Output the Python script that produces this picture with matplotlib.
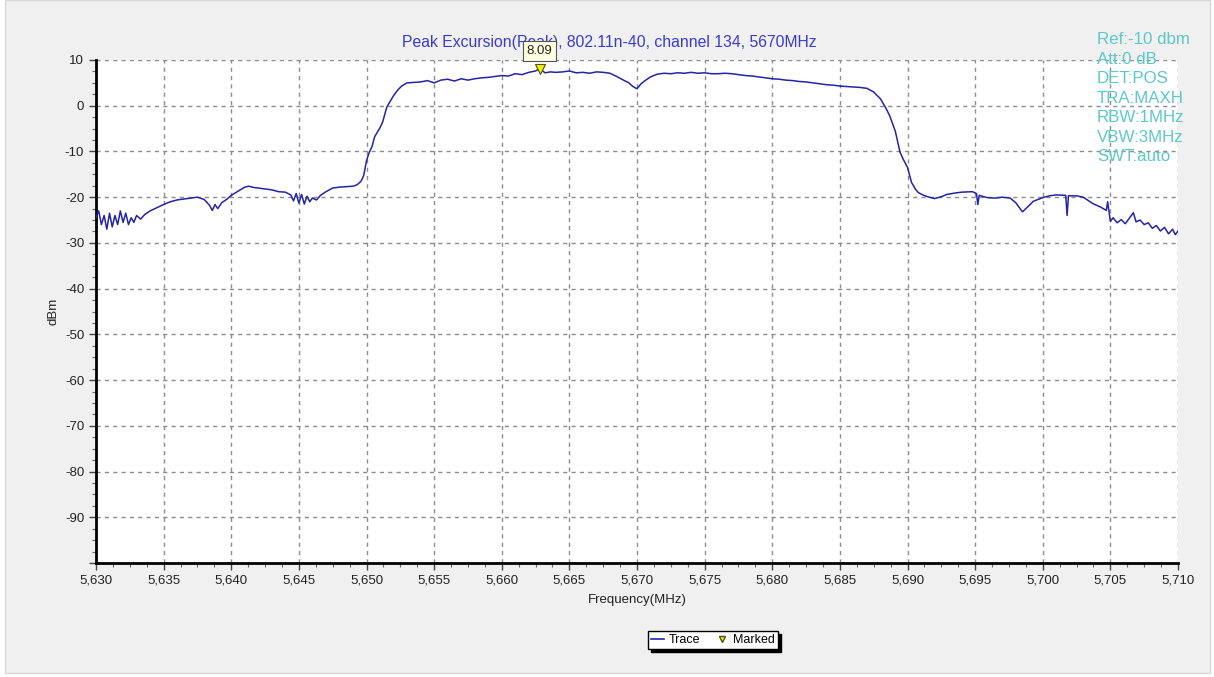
import matplotlib.pyplot as plt
import numpy as np
from matplotlib.lines import Line2D
from matplotlib.patches import Rectangle
from matplotlib.ticker import AutoMinorLocator, FuncFormatter, MultipleLocator

plt.rcParams["font.family"] = ["Liberation Sans", "DejaVu Sans"]

# Trace z analizatora (MAXH), MHz / dBm
freq = [
    5630.0, 5630.2, 5630.4, 5630.6, 5630.8, 5631.0, 5631.2, 5631.4, 5631.6, 5631.8,
    5632.0, 5632.2, 5632.4, 5632.6, 5632.8, 5633.0, 5633.3, 5633.6, 5634.0, 5634.5,
    5635.0, 5635.5, 5636.0, 5636.5, 5637.0, 5637.5, 5638.0, 5638.4, 5638.6, 5638.8,
    5639.0, 5639.3, 5639.7, 5640.0, 5640.5, 5641.0, 5641.3, 5641.7, 5642.0, 5642.5,
    5643.0, 5643.5, 5644.0, 5644.4, 5644.6, 5644.8, 5645.0, 5645.2, 5645.4, 5645.6,
    5645.8, 5646.0, 5646.3, 5646.6, 5647.0, 5647.5, 5648.0, 5648.5, 5649.0, 5649.3,
    5649.6, 5649.8, 5650.0, 5650.2, 5650.4, 5650.6, 5650.8, 5651.0, 5651.2, 5651.5,
    5651.8, 5652.0, 5652.3, 5652.6, 5653.0, 5653.5, 5654.0, 5654.5, 5655.0, 5655.5,
    5656.0, 5656.5, 5657.0, 5657.5, 5658.0, 5658.5, 5659.0, 5659.5, 5660.0, 5660.5,
    5661.0, 5661.5, 5662.0, 5662.5, 5662.8, 5663.2, 5663.6, 5664.0, 5664.5, 5665.0,
    5665.5, 5666.0, 5666.5, 5667.0, 5667.5, 5668.0, 5668.5, 5669.0, 5669.4, 5669.7,
    5670.0, 5670.3, 5670.6, 5671.0, 5671.5, 5672.0, 5672.5, 5673.0, 5673.5, 5674.0,
    5674.5, 5675.0, 5675.5, 5676.0, 5676.5, 5677.0, 5677.5, 5678.0, 5678.5, 5679.0,
    5679.5, 5680.0, 5680.5, 5681.0, 5681.5, 5682.0, 5682.5, 5683.0, 5683.5, 5684.0,
    5684.5, 5685.0, 5685.5, 5686.0, 5686.5, 5687.0, 5687.5, 5688.0, 5688.4, 5688.7,
    5689.1, 5689.45, 5689.7, 5690.0, 5690.3, 5690.6, 5690.8, 5691.2, 5691.6, 5692.0,
    5692.5, 5692.9, 5693.5, 5694.0, 5694.8, 5695.1, 5695.2, 5695.3, 5695.9, 5696.5,
    5697.0, 5697.6, 5698.0, 5698.5, 5699.0, 5699.3, 5700.0, 5700.5, 5701.0, 5701.7,
    5701.8, 5701.9, 5702.5, 5703.0, 5703.7, 5704.3, 5704.7, 5704.8, 5705.0, 5705.2,
    5705.5, 5705.8, 5706.1, 5706.4, 5706.7, 5706.9, 5707.2, 5707.5, 5707.8, 5708.1,
    5708.4, 5708.7, 5709.0, 5709.3, 5709.6, 5709.8, 5710.0,
]
level = [
    -24.5, -23.0, -26.0, -24.0, -27.0, -23.5, -26.5, -24.0, -26.0, -23.0,
    -25.5, -23.5, -26.0, -24.5, -25.5, -24.0, -24.8, -23.8, -23.0, -22.3,
    -21.6, -21.0, -20.6, -20.4, -20.2, -20.0, -20.5, -21.8, -22.9, -21.6,
    -22.5, -21.2, -20.4, -19.6, -18.7, -17.8, -17.6, -17.9, -18.0, -18.2,
    -18.4, -18.8, -18.9, -19.5, -20.8, -19.2, -21.3, -19.4, -21.5, -19.8,
    -21.0, -20.2, -20.6, -19.6, -18.8, -18.0, -17.8, -17.7, -17.6, -17.3,
    -16.5, -15.2, -12.0, -10.2, -9.0, -6.8, -5.8, -4.8, -3.5, -0.3,
    1.2, 2.2, 3.4, 4.3, 5.0, 5.1, 5.2, 5.5, 5.0, 5.6,
    5.8, 5.4, 5.9, 5.6, 5.9, 6.1, 6.2, 6.4, 6.6, 6.5,
    7.0, 6.8, 7.3, 7.6, 8.09, 7.2, 7.4, 7.3, 7.4, 7.6,
    7.2, 7.3, 7.1, 7.4, 7.3, 7.1, 6.4, 5.6, 5.0, 4.2,
    3.7, 4.8, 5.5, 6.3, 6.9, 7.1, 7.0, 7.2, 7.1, 7.3,
    7.1, 7.2, 7.0, 7.0, 7.1, 7.0, 6.8, 6.6, 6.5, 6.3,
    6.1, 5.9, 5.8, 5.6, 5.5, 5.3, 5.2, 5.0, 4.8, 4.6,
    4.5, 4.3, 4.2, 4.1, 4.0, 3.8, 3.0, 1.5, -0.5, -2.3,
    -5.6, -10.2, -11.8, -13.5, -16.8, -18.3, -19.0, -19.6, -20.0, -20.3,
    -19.9, -19.4, -19.1, -18.9, -18.8, -19.2, -21.6, -19.6, -20.1, -20.2,
    -20.0, -20.2, -21.2, -23.2, -21.8, -20.9, -20.1, -19.7, -19.5, -19.6,
    -24.0, -19.7, -19.7, -20.0, -21.4, -22.2, -22.9, -21.0, -25.3, -24.5,
    -25.6, -24.9, -25.8, -24.6, -23.4, -25.4, -25.0, -26.0, -25.6, -26.8,
    -26.2, -27.4, -26.6, -28.0, -27.0, -28.2, -27.4,
]

marker_freq = 5662.8
marker_level = 8.09

title = "Peak Excursion(Peak), 802.11n-40, channel 134, 5670MHz"
settings = ["Ref:-10 dbm", "Att:0 dB", "DET:POS", "TRA:MAXH",
            "RBW:1MHz", "VBW:3MHz", "SWT:auto"]

W, H = 1214, 677
fig = plt.figure(figsize=(W / 100, H / 100), dpi=100, facecolor="white")
fig.patches.append(Rectangle((5 / W, 4 / H), 1205 / W, 673 / H,
                             transform=fig.transFigure, facecolor="#f0f0f0",
                             edgecolor="#d8d8d8", linewidth=1, zorder=-10))

ax = fig.add_axes([96 / W, (H - 563) / H, (1178 - 96) / W, (563 - 60) / H])
ax.set_facecolor("white")

trace_color = "#2424a8"
ax.plot(freq, level, color=trace_color, linewidth=1.1, zorder=3)
ax.plot([marker_freq], [marker_level], marker="v", markersize=7.5,
        markerfacecolor="#f4f000", markeredgecolor="#505000",
        markeredgewidth=0.8, linestyle="none", zorder=4)
# etykieta markera nachodzi na tytuł, tak jak w oknie analizatora
ax.annotate(f"{marker_level:.2f}", xy=(marker_freq, marker_level),
            xytext=(0, 12.5), textcoords="offset points", ha="center",
            va="center", fontsize=9.5, color="#222222", zorder=6,
            annotation_clip=False,
            bbox=dict(boxstyle="square,pad=0.3", facecolor="#ffffe1",
                      edgecolor="#555555", linewidth=0.8))

ax.set_xlim(5630, 5710)
ax.set_ylim(-100, 10)
ax.xaxis.set_major_locator(MultipleLocator(5))
ax.yaxis.set_major_locator(MultipleLocator(10))
ax.xaxis.set_minor_locator(AutoMinorLocator(4))
ax.yaxis.set_minor_locator(AutoMinorLocator(4))
ax.xaxis.set_major_formatter(FuncFormatter(lambda v, p: f"{v:,.0f}"))
ax.yaxis.set_major_formatter(
    FuncFormatter(lambda v, p: "" if v < -95 else f"{v:.0f}"))
ax.tick_params(which="major", direction="out", length=5, width=1,
               color="#444444", labelsize=9.5, labelcolor="#222222")
ax.tick_params(which="minor", direction="out", length=3, width=0.8,
               color="#666666")

ax.grid(True, which="major", color="#8c8c8c", linestyle=(0, (3, 3)),
        linewidth=1)
for side in ["top", "right"]:
    ax.spines[side].set_visible(False)
for side in ["left", "bottom"]:
    ax.spines[side].set_linewidth(2)
    ax.spines[side].set_color("black")

ax.set_xlabel("Frequency(MHz)", fontsize=9.5, color="#222222", labelpad=5)
ax.set_ylabel("dBm", fontsize=9.5, color="#222222", labelpad=4)

# tytuł rysowany pod osiami, żeby etykieta markera go przykrywała
fig.text(609 / W, 1 - 42 / H, title, ha="center", va="center",
         fontsize=11.3, color="#3a3ad0", zorder=-1)

for i, s in enumerate(settings):
    fig.text(1097 / W, 1 - (40 + i * 19.4) / H, s, ha="left", va="center",
             fontsize=12.2, color="#5cc8c8", zorder=10)

handles = [
    Line2D([], [], color=trace_color, linewidth=1.2, label="Trace"),
    Line2D([], [], marker="v", markersize=5, linestyle="none",
           markerfacecolor="#f4f000", markeredgecolor="#505000",
           label="Marked"),
]
leg = fig.legend(handles=handles, loc="center", bbox_to_anchor=(713 / W, 1 - 640 / H),
                 ncol=2, fontsize=9, frameon=True, fancybox=False,
                 handlelength=1.0, handletextpad=0.4, columnspacing=1.2,
                 borderpad=0.25,
                 shadow={"facecolor": "black", "edgecolor": "black", "alpha": 1})
leg.get_frame().set_edgecolor("black")
leg.get_frame().set_linewidth(1)

fig.savefig("out.png", dpi=100, facecolor=fig.get_facecolor())
